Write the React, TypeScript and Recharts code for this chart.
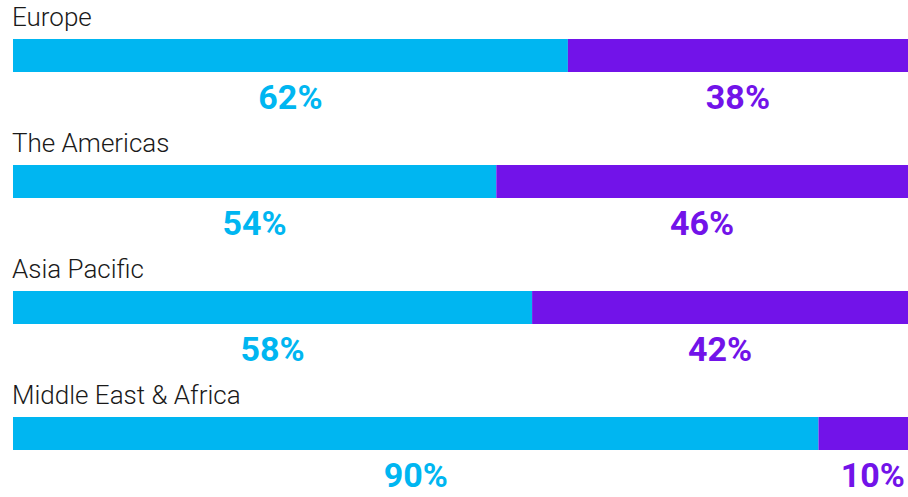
import { BarChart, Bar, XAxis, YAxis, LabelList } from "recharts";

const regions = ["Europe", "The Americas", "Asia Pacific", "Middle East & Africa"];
const shareA = [62, 54, 58, 90];
const shareB = [38, 46, 42, 10];

const CYAN = "#00B6F1";
const PURPLE = "#7213E9";

const data = regions.map((region, i) => ({
  region,
  a: shareA[i],
  b: shareB[i],
}));

const RegionLabel = (props: any) => {
  const { x, y, value } = props;
  return (
    <text
      x={x - 1}
      y={y - 13}
      fill="#1a1a1a"
      fontSize={26}
      fontWeight={300}
      fontFamily="Roboto, 'Liberation Sans', sans-serif"
    >
      {value}
    </text>
  );
};

const pctLabel = (color: string) => (props: any) => {
  const { x, y, width, height, value } = props;
  // narrow segments: keep the label inside the right edge
  const narrow = width < 120;
  return (
    <text
      x={narrow ? x + width - 3 : x + width / 2}
      y={y + height + 37}
      textAnchor={narrow ? "end" : "middle"}
      fill={color}
      fontSize={34}
      fontWeight={700}
      fontFamily="Roboto, 'Liberation Sans', sans-serif"
    >
      {value}%
    </text>
  );
};

export default function App() {
  return (
    <div style={{ position: "absolute", left: 0, top: -8 }}>
      <BarChart
        width={908}
        height={504}
        data={data}
        layout="vertical"
        margin={{ top: 0, right: 0, bottom: 0, left: 13 }}
      >
        <XAxis type="number" domain={[0, 100]} hide />
        <YAxis type="category" dataKey="region" hide />
        <Bar dataKey="a" stackId="s" fill={CYAN} barSize={33} isAnimationActive={false}>
          <LabelList dataKey="region" content={RegionLabel} />
          <LabelList dataKey="a" content={pctLabel(CYAN)} />
        </Bar>
        <Bar dataKey="b" stackId="s" fill={PURPLE} barSize={33} isAnimationActive={false}>
          <LabelList dataKey="b" content={pctLabel(PURPLE)} />
        </Bar>
      </BarChart>
    </div>
  );
}
